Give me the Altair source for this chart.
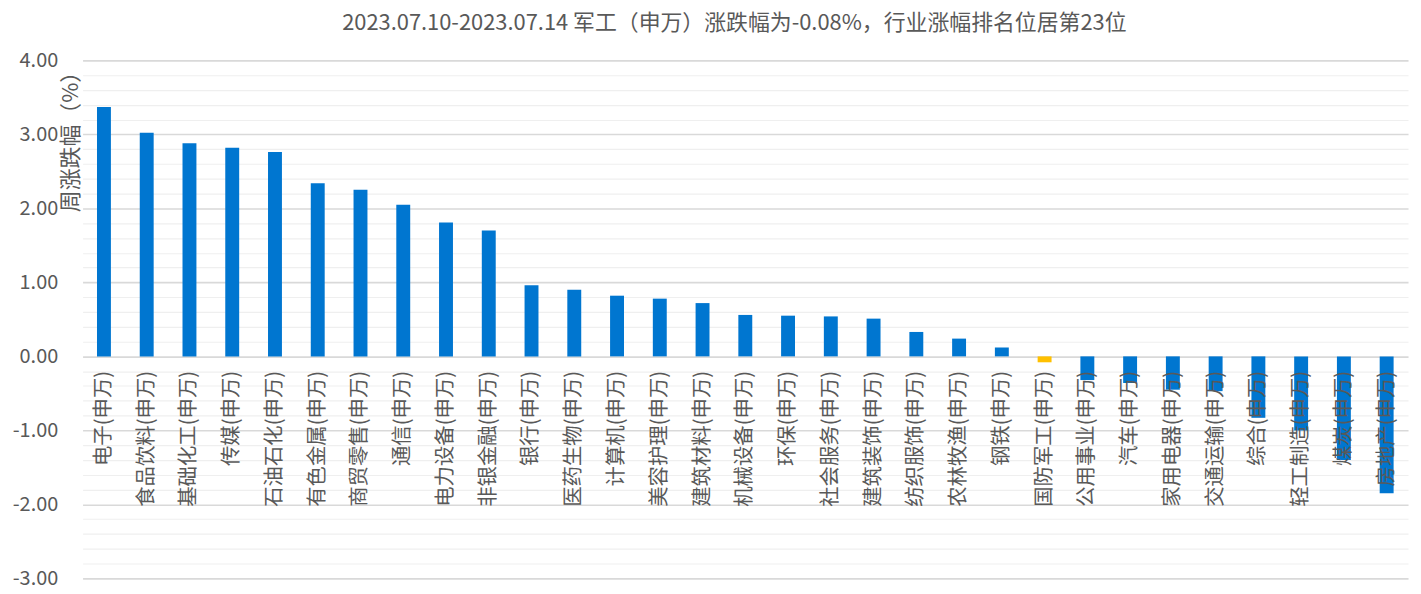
import altair as alt
import pandas as pd

industries = [
    "电子(申万)", "食品饮料(申万)", "基础化工(申万)", "传媒(申万)", "石油石化(申万)",
    "有色金属(申万)", "商贸零售(申万)", "通信(申万)", "电力设备(申万)", "非银金融(申万)",
    "银行(申万)", "医药生物(申万)", "计算机(申万)", "美容护理(申万)", "建筑材料(申万)",
    "机械设备(申万)", "环保(申万)", "社会服务(申万)", "建筑装饰(申万)", "纺织服饰(申万)",
    "农林牧渔(申万)", "钢铁(申万)", "国防军工(申万)", "公用事业(申万)", "汽车(申万)",
    "家用电器(申万)", "交通运输(申万)", "综合(申万)", "轻工制造(申万)", "煤炭(申万)",
    "房地产(申万)",
]
weekly_change = [
    3.37, 3.02, 2.88, 2.82, 2.76,
    2.34, 2.25, 2.05, 1.81, 1.70,
    0.96, 0.90, 0.82, 0.78, 0.72,
    0.56, 0.55, 0.54, 0.51, 0.33,
    0.24, 0.12, -0.08, -0.32, -0.36,
    -0.45, -0.47, -0.83, -1.00, -1.40,
    -1.85,
]
highlight = "国防军工(申万)"
y_ticks = [round(-3 + 0.2 * i, 1) for i in range(36)]
title_text = "2023.07.10-2023.07.14 军工（申万）涨跌幅为-0.08%，行业涨幅排名位居第23位"
y_title = "周涨跌幅（%）"

df = pd.DataFrame({"name": industries, "value": weekly_change})

FONT = "Noto Sans CJK SC"
GREY = "#595959"
W, H = 1333, 521
ymin, ymax = -3, 4
zero_from_bottom = H * (0 - ymin) / (ymax - ymin)
is_major = "abs(datum.value - round(datum.value)) < 0.001"

chart = (
    alt.Chart(df)
    .mark_bar(size=14)
    .encode(
        x=alt.X(
            "name:N",
            sort=None,
            title=None,
            axis=alt.Axis(
                orient="bottom",
                offset=-zero_from_bottom,
                labelAngle=270,
                labelAlign="right",
                labelBaseline="middle",
                labelPadding=14,
                labelFontSize=20.5,
                labelFont=FONT,
                labelColor=GREY,
                labelOverlap=False,
                labelLimit=0,
                ticks=False,
                domain=False,
                grid=False,
                zindex=1,
            ),
        ),
        y=alt.Y(
            "value:Q",
            scale=alt.Scale(domain=[ymin, ymax], nice=False, zero=False),
            axis=alt.Axis(
                values=y_ticks,
                title=y_title,
                titleFont=FONT,
                titleFontSize=22,
                titleFontWeight="normal",
                titleColor=GREY,
                titleAngle=270,
                titleAlign="right",
                titleBaseline="bottom",
                titleX=0,
                titleY=0,
                labelExpr=is_major + " ? replace(format(datum.value, '.2f'), '\u2212', '-') : ''",
                labelFont=FONT,
                labelFontSize=20,
                labelColor=GREY,
                labelPadding=25,
                ticks=False,
                domain=False,
                gridColor={
                    "condition": {"test": is_major, "value": "#D9D9D9"},
                    "value": "#EFEFEF",
                },
                gridWidth={
                    "condition": {"test": is_major, "value": 1.6},
                    "value": 1.2,
                },
                zindex=0,
            ),
        ),
        color=alt.condition(
            alt.datum.name == highlight, alt.value("#FFC000"), alt.value("#0076D0")
        ),
    )
    .properties(
        width=W,
        height=H,
        title=alt.TitleParams(
            text=title_text,
            font=FONT,
            fontSize=22,
            fontWeight="normal",
            color=GREY,
            anchor="middle",
            dx=-11,
            offset=16,
        ),
        autosize=alt.AutoSizeParams(type="none"),
        padding={"left": 75, "top": 51, "right": 5, "bottom": 6},
    )
    .configure_view(stroke=None)
)

chart.save("out.html", embed_options={"renderer": "svg", "actions": False})
